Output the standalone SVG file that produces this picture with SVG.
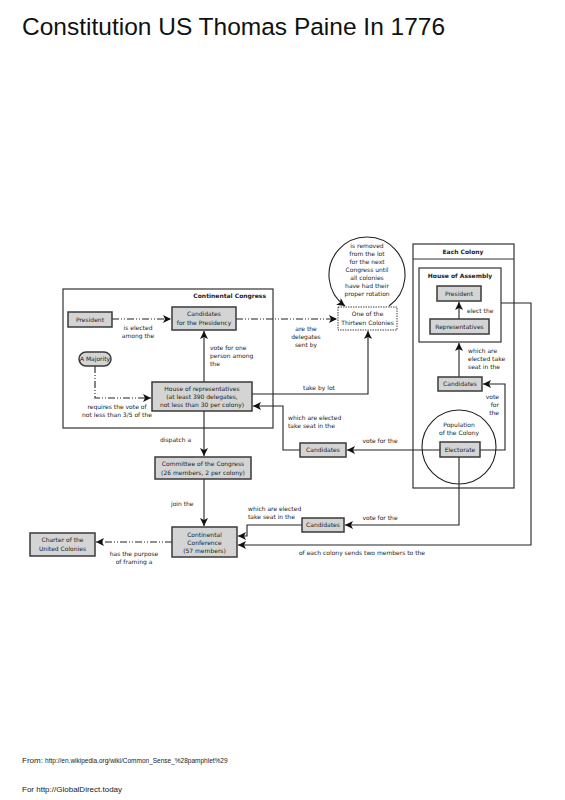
<svg xmlns="http://www.w3.org/2000/svg" width="565" height="800" viewBox="0 0 565 800">
<style>
.bg{fill:#fff}
.frame{fill:none;stroke:#333;stroke-width:1.2}
.node{fill:#d4d4d4;stroke:#3a3a3a;stroke-width:1.5}
.dotted{fill:#fff;stroke:#444;stroke-width:1;stroke-dasharray:1.5,1}
.t{font-family:"DejaVu Sans","Liberation Sans",sans-serif;font-size:6px;fill:#222}
.c{text-anchor:middle}
.e{text-anchor:end}
.b{font-weight:bold}
.ln{fill:none;stroke:#222;stroke-width:1.1}
.dd{fill:none;stroke:#222;stroke-width:1.1;stroke-dasharray:7,2,1,2,1,2}
.title{font-family:"Liberation Sans",Arial,sans-serif;font-size:24.5px;fill:#111}
.foot{font-family:"Liberation Sans",Arial,sans-serif;fill:#222}
</style>
<defs>
<marker id="ah" markerWidth="9" markerHeight="8" refX="8" refY="4" orient="auto" markerUnits="userSpaceOnUse">
<path d="M0,0 L8,4 L0,8 L2,4 z" fill="#111"/>
</marker>
</defs>
<rect class="bg" width="565" height="800"/>
<text class="title" x="22" y="35">Constitution US Thomas Paine In 1776</text>

<g id="continental-congress">
<rect class="frame" x="63" y="289" width="210" height="139"/>
<text class="t b e" x="266" y="298">Continental Congress</text>
</g>
<g id="each-colony">
<rect class="frame" x="413" y="244" width="101" height="244"/>
<line class="frame" x1="413" y1="259" x2="514" y2="259"/>
<text class="t b c" x="463" y="254">Each Colony</text>
</g>
<g id="house-of-assembly">
<rect class="frame" x="419" y="268" width="82" height="74"/>
<text class="t b c" x="460" y="278">House of Assembly</text>
</g>

<g id="connectors">
<path class="dd" d="M112,319 H171" marker-end="url(#ah)"/>
<path class="dd" d="M236,319 H337" marker-end="url(#ah)"/>
<path class="dd" d="M95,366 V398 H151" marker-end="url(#ah)"/>
<path class="ln" d="M204,382 V331" marker-end="url(#ah)"/>
<path class="ln" d="M389,306 A38,38 0 1 0 345,306" marker-end="url(#ah)"/>
<path class="ln" d="M252,394 H368 V331" marker-end="url(#ah)"/>
<path class="ln" d="M300,450 H283 V406 H253" marker-end="url(#ah)"/>
<path class="ln" d="M440,450 H347" marker-end="url(#ah)"/>
<path class="ln" d="M480,450 H505 V384 H483" marker-end="url(#ah)"/>
<path class="ln" d="M459,377 V343" marker-end="url(#ah)"/>
<path class="ln" d="M459,319 V302" marker-end="url(#ah)"/>
<path class="ln" d="M501,303 H531 V545 H238" marker-end="url(#ah)"/>
<path class="ln" d="M459,457 V525 H345" marker-end="url(#ah)"/>
<path class="ln" d="M302,525 H247 V536 H238" marker-end="url(#ah)"/>
<path class="ln" d="M204,411 V456" marker-end="url(#ah)"/>
<path class="ln" d="M204,479 V526" marker-end="url(#ah)"/>
<path class="dd" d="M172,542 H96" marker-end="url(#ah)"/>
</g>

<g id="labels">
<text class="t c" x="138" y="330">is elected</text>
<text class="t c" x="138" y="338">among the</text>
<text class="t c" x="306" y="331">are the</text>
<text class="t c" x="306" y="339">delegates</text>
<text class="t c" x="306" y="347">sent by</text>
<text class="t" x="210" y="350">vote for one</text>
<text class="t" x="210" y="358">person among</text>
<text class="t" x="210" y="366">the</text>
<text class="t c" x="117" y="409">requires the vote of</text>
<text class="t c" x="117" y="417">not less than 3/5 of the</text>
<text class="t c" x="319" y="390">take by lot</text>
<text class="t" x="288" y="420">which are elected</text>
<text class="t" x="288" y="428">take seat in the</text>
<text class="t c" x="380" y="443">vote for the</text>
<text class="t" x="467" y="313">elect the</text>
<text class="t" x="468" y="353">which are</text>
<text class="t" x="468" y="361">elected take</text>
<text class="t" x="468" y="369">seat in the</text>
<text class="t e" x="499" y="399">vote</text>
<text class="t e" x="499" y="407">for</text>
<text class="t e" x="499" y="415">the</text>
<text class="t" x="160" y="442">dispatch a</text>
<text class="t" x="171" y="506">join the</text>
<text class="t" x="248" y="511">which are elected</text>
<text class="t" x="248" y="519">take seat in the</text>
<text class="t c" x="380" y="520">vote for the</text>
<text class="t c" x="362" y="555">of each colony sends two members to the</text>
<text class="t c" x="134" y="556">has the purpose</text>
<text class="t c" x="134" y="564">of framing a</text>
</g>

<g id="president">
<rect class="node" x="68" y="312" width="44" height="15"/>
<text class="t c" x="90" y="321.5">President</text>
</g>
<g id="candidates-presidency">
<rect class="node" x="172" y="307" width="64" height="23"/>
<text class="t c" x="204" y="316">Candidates</text>
<text class="t c" x="204" y="325">for the Presidency</text>
</g>
<g id="a-majority">
<rect class="node" x="79" y="352" width="32" height="14" rx="7"/>
<text class="t c" x="95" y="361.2">A Majority</text>
</g>
<g id="house-of-representatives">
<rect class="node" x="152" y="382" width="100" height="29"/>
<text class="t c" x="202" y="391">House of representatives</text>
<text class="t c" x="202" y="399">(at least 390 delegates,</text>
<text class="t c" x="202" y="407">not less than 30 per colony)</text>
</g>
<g id="thirteen-colonies">
<rect class="dotted" x="338" y="307" width="59" height="23"/>
<text class="t c" x="367.5" y="316">One of the</text>
<text class="t c" x="367.5" y="325">Thirteen Colonies</text>
<text class="t c" x="367" y="248">is removed</text>
<text class="t c" x="367" y="256">from the lot</text>
<text class="t c" x="367" y="264">for the next</text>
<text class="t c" x="367" y="272">Congress until</text>
<text class="t c" x="367" y="280">all colonies</text>
<text class="t c" x="367" y="288">have had their</text>
<text class="t c" x="367" y="296">proper rotation</text>
</g>
<g id="colony-president">
<rect class="node" x="437" y="286" width="44" height="15"/>
<text class="t c" x="459" y="295.5">President</text>
</g>
<g id="representatives">
<rect class="node" x="430" y="319" width="59" height="15"/>
<text class="t c" x="459.5" y="328.5">Representatives</text>
</g>
<g id="colony-candidates">
<rect class="node" x="438" y="377" width="44" height="14"/>
<text class="t c" x="460" y="386.2">Candidates</text>
</g>
<g id="population">
<circle cx="459" cy="447" r="37" fill="none" stroke="#222" stroke-width="1.1"/>
<text class="t c" x="459" y="427">Population</text>
<text class="t c" x="459" y="435">of the Colony</text>
</g>
<g id="electorate">
<rect class="node" x="440" y="442" width="40" height="15"/>
<text class="t c" x="460" y="451.5">Electorate</text>
</g>
<g id="candidates-mid">
<rect class="node" x="300" y="443" width="46" height="14"/>
<text class="t c" x="323" y="452.2">Candidates</text>
</g>
<g id="candidates-low">
<rect class="node" x="302" y="518" width="42" height="14"/>
<text class="t c" x="323" y="527.2">Candidates</text>
</g>
<g id="committee">
<rect class="node" x="155" y="457" width="96" height="22"/>
<text class="t c" x="203" y="466">Committee of the Congress</text>
<text class="t c" x="203" y="475">(26 members, 2 per colony)</text>
</g>
<g id="continental-conference">
<rect class="node" x="172" y="527" width="65" height="30"/>
<text class="t c" x="204.5" y="537">Continental</text>
<text class="t c" x="204.5" y="545">Conference</text>
<text class="t c" x="204.5" y="553">(57 members)</text>
</g>
<g id="charter">
<rect class="node" x="30" y="533" width="65" height="23"/>
<text class="t c" x="62.5" y="542">Charter of the</text>
<text class="t c" x="62.5" y="551">United Colonies</text>
</g>

<text class="foot" x="22" y="763" font-size="8">From: <tspan font-size="6.5">http://en.wikipedia.org/wiki/Common_Sense_%28pamphlet%29</tspan></text>
<text class="foot" x="22" y="792" font-size="8">For http://GlobalDirect.today</text>
</svg>
